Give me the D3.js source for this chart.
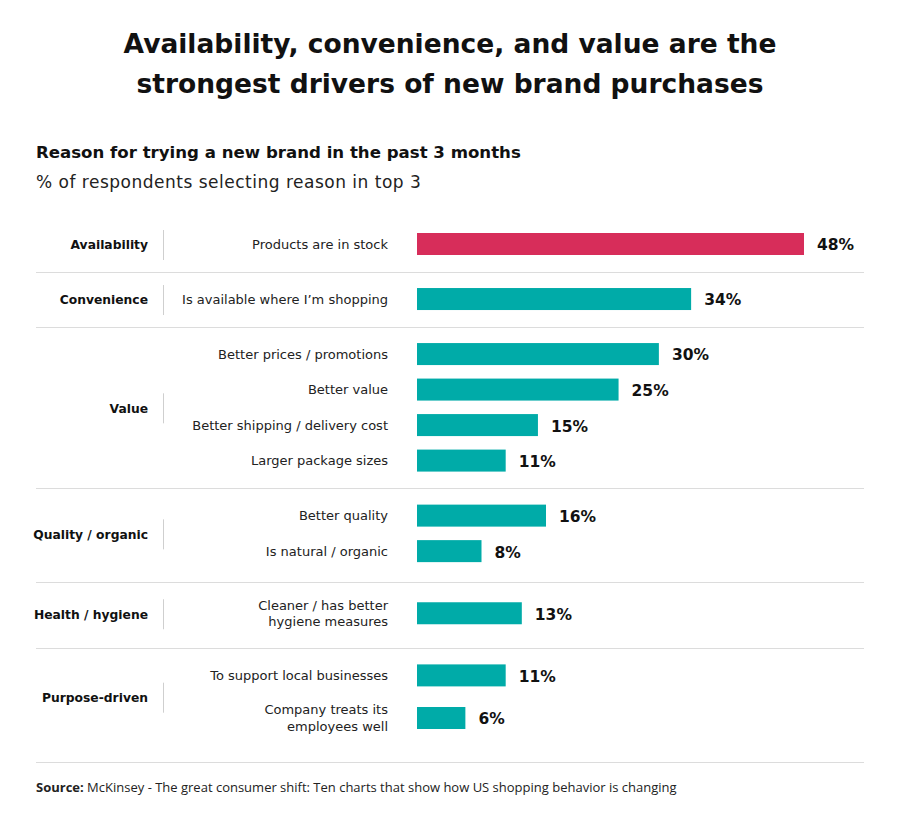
<!DOCTYPE html>
<html><head><meta charset="utf-8">
<script src="https://cdn.jsdelivr.net/npm/d3@7/dist/d3.min.js"></script>
<style>body{margin:0;background:#fff;} text{font-family:"DejaVu Sans",sans-serif;}</style>
</head><body><svg id="c" width="900" height="827"></svg>
<script>
const groups = ["Availability","Convenience","Value","Value","Value","Value","Quality / organic","Quality / organic","Health / hygiene","Purpose-driven","Purpose-driven"];
const reasons = ["Products are in stock","Is available where I’m shopping","Better prices / promotions","Better value","Better shipping / delivery cost","Larger package sizes","Better quality","Is natural / organic","Cleaner / has better\nhygiene measures","To support local businesses","Company treats its\nemployees well"];
const values = [48,34,30,25,15,11,16,8,13,11,6];
const highlight = ["Availability"];

const svg = d3.select("#c");
const W = 900;
svg.append("rect").attr("width",900).attr("height",827).attr("fill","#fff");

// Title
const title = ["Availability, convenience, and value are the","strongest drivers of new brand purchases"];
svg.selectAll(".t").data(title).enter().append("text")
  .attr("x",W/2).attr("y",(d,i)=>53+i*40).attr("text-anchor","middle")
  .attr("font-size",26.5).attr("font-weight",700).attr("fill","#111").text(d=>d);
svg.append("text").attr("x",36).attr("y",158).attr("font-size",16.6).attr("font-weight",700).attr("fill","#111")
  .text("Reason for trying a new brand in the past 3 months");
svg.append("text").attr("x",36).attr("y",188).attr("font-size",17).attr("letter-spacing",0.5).attr("fill","#222")
  .text("% of respondents selecting reason in top 3");

// layout slots
const rows = reasons.map((r,i)=>({group:groups[i], reason:r, value:values[i], lines:r.split("\n")}));
let slot = 0;
rows.forEach((d,i)=>{
  const multi = d.lines.length>1 ? 0.2 : 0;
  const prevMulti = i>0 && rows[i-1].lines.length>1 ? 0.2 : 0;
  if(i>0) slot += 1 + (d.group!==rows[i-1].group ? 0.55 : 0) + multi + prevMulti;
  d.slot = slot;
});
const y = d3.scaleLinear().domain([0, rows[rows.length-1].slot]).range([244, 718]);
const x = d3.scaleLinear().domain([0,48]).range([417,804]);
const barH = 22;

// separators
const gnames = Array.from(new Set(groups));
const seps = [];
gnames.forEach((g,gi)=>{
  if(gi===0) return;
  const prevLast = rows.filter(r=>r.group===gnames[gi-1]).slice(-1)[0];
  const first = rows.find(r=>r.group===g);
  seps.push((y(prevLast.slot)+y(first.slot))/2 + (prevLast.lines.length>1?4:0));
});
seps.push(y(rows[rows.length-1].slot)+44);
svg.selectAll(".sep").data(seps).enter().append("line")
  .attr("x1",36).attr("x2",864).attr("y1",d=>Math.round(d)+0.5).attr("y2",d=>Math.round(d)+0.5)
  .attr("stroke","#dcdcdc").attr("stroke-width",1);

// group labels + dividers
gnames.forEach(g=>{
  const rs = rows.filter(r=>r.group===g);
  const cy = d3.mean(rs, r=>y(r.slot)) + 1;
  svg.append("text").attr("x",148).attr("y",cy).attr("dy","0.35em").attr("text-anchor","end")
    .attr("font-size",12.3).attr("font-weight",700).attr("fill","#111").text(g);
  svg.append("line").attr("x1",163.5).attr("x2",163.5).attr("y1",cy-15).attr("y2",cy+15)
    .attr("stroke","#cfcfcf").attr("stroke-width",1);
});

// reason labels
rows.forEach(d=>{
  const t = svg.append("text").attr("x",388).attr("text-anchor","end").attr("font-size",13).attr("fill","#222");
  const n = d.lines.length;
  d.lines.forEach((l,i)=>{
    t.append("tspan").attr("x",388).attr("y",y(d.slot)+(i-(n-1)/2)*16.5).attr("dy","0.35em").text(l);
  });
});

// bars
svg.selectAll(".bar").data(rows).enter().append("rect")
  .attr("x",x(0)).attr("y",d=>y(d.slot)-barH/2).attr("height",barH)
  .attr("width",d=>x(d.value)-x(0))
  .attr("fill",d=>highlight.includes(d.group)?"#d72d5a":"#00aba8");
svg.selectAll(".val").data(rows).enter().append("text")
  .attr("x",d=>x(d.value)+13).attr("y",d=>y(d.slot)+1).attr("dy","0.35em")
  .attr("font-size",15.5).attr("font-weight",700).attr("fill","#111").text(d=>d.value+"%");

// source
const src = svg.append("text").attr("x",36).attr("y",792).attr("font-size",13).attr("fill","#222")
  .style("font-family","'Open Sans',sans-serif");
src.append("tspan").attr("font-weight",700).text("Source: ");
src.append("tspan").text("McKinsey - The great consumer shift: Ten charts that show how US shopping behavior is changing");
</script></body></html>
